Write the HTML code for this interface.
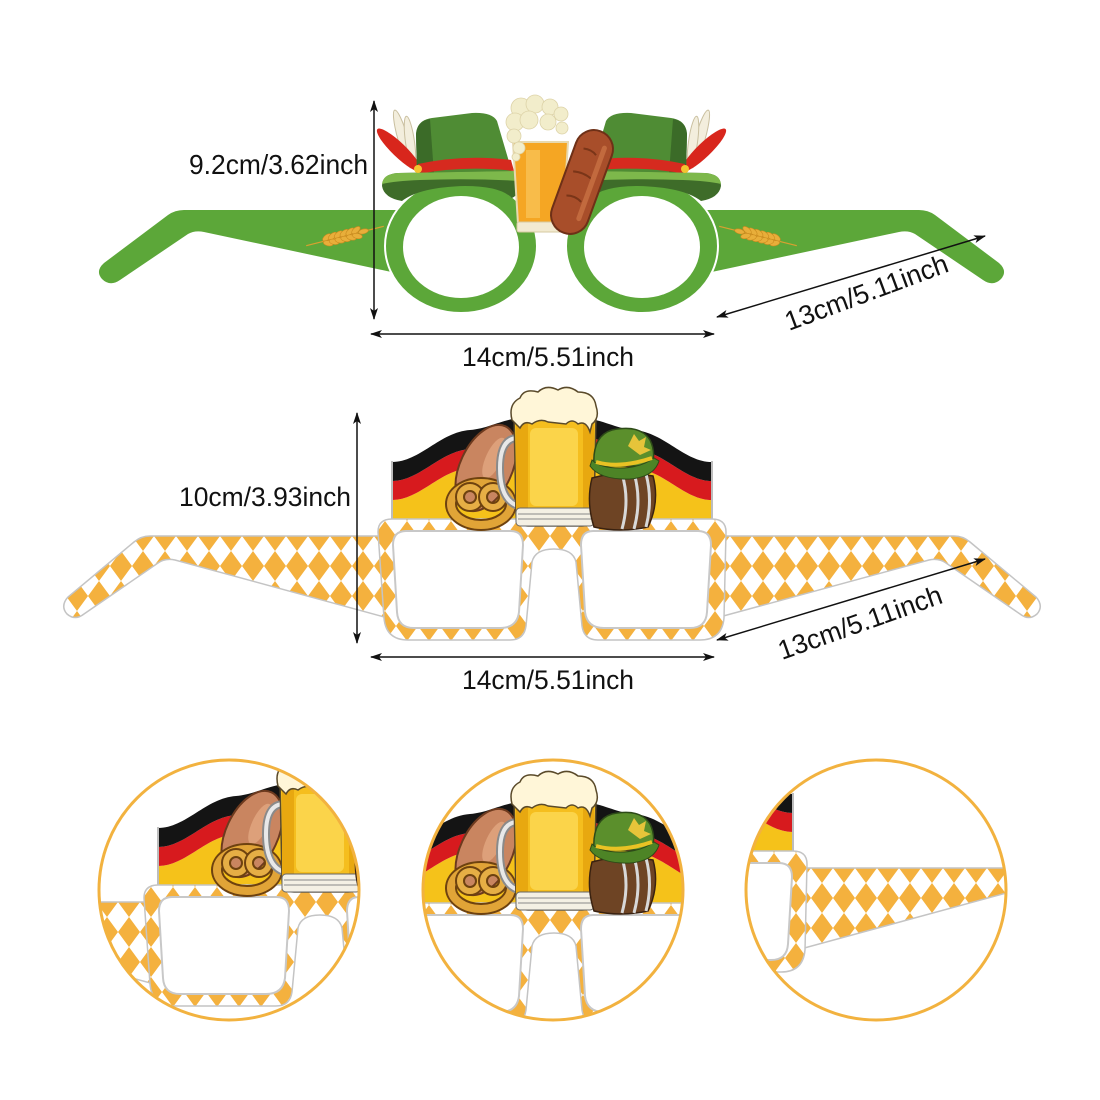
<!DOCTYPE html>
<html>
<head>
<meta charset="utf-8">
<style>
  html,body{margin:0;padding:0;background:#fff;}
  svg{display:block;}
  text{font-family:"Liberation Sans",sans-serif;fill:#111;}
</style>
</head>
<body>
<svg width="1100" height="1100" viewBox="0 0 1100 1100" xmlns="http://www.w3.org/2000/svg">
<defs>
  <pattern id="dm" x="0" y="521" width="22" height="30" patternUnits="userSpaceOnUse">
    <rect width="22" height="30" fill="#fff"/>
    <path d="M11,0 L22,15 L11,30 L0,15Z" fill="#F4B13E"/>
  </pattern>
  <marker id="ar" viewBox="0 0 12 8" refX="11" refY="4" markerWidth="12" markerHeight="8" markerUnits="userSpaceOnUse" orient="auto-start-reverse">
    <path d="M0,0 L12,4 L0,8 L3,4Z" fill="#111"/>
  </marker>
  <clipPath id="c1"><circle cx="229" cy="890" r="129"/></clipPath>
  <clipPath id="c2"><circle cx="553" cy="890" r="129"/></clipPath>
  <clipPath id="c3"><circle cx="876" cy="890" r="129"/></clipPath>

  <!-- left flag (middle glasses) -->
  <g id="flagL">
    <path d="M392,500 C420,500 440,470 470,468 C490,466 500,458 520,456 L520,523 L392,523 Z" fill="#F5C21A"/>
    <path d="M392,481 C420,481 440,451 470,449 C490,447 500,439 520,437 L520,456 C500,458 490,466 470,468 C440,470 420,500 392,500 Z" fill="#D71A1E"/>
    <path d="M392,462 C420,462 440,432 470,430 C490,428 500,420 520,418 L520,437 C500,439 490,447 470,449 C440,451 420,481 392,481 Z" fill="#141414"/>
    <line x1="392" y1="461" x2="392" y2="522" stroke="#bdbdbd" stroke-width="2"/>
  </g>

  <!-- middle temple -->
  <path id="tmpL" d="M380,536 L150,536 Q141,536 134,542 L68,597 Q60,606 67,614 Q75,621 84,614 L158,563 Q165,558 175,560 L388,618 Z" fill="url(#dm)" stroke="#c4c4c4" stroke-width="1.5"/>

  <!-- middle glasses group -->
  <g id="mid">
    <use href="#tmpL"/>
    <use href="#tmpL" transform="translate(1104,0) scale(-1,1)"/>
    <use href="#flagL"/>
    <use href="#flagL" transform="translate(1104,0) scale(-1,1)"/>
    <!-- frame -->
    <path d="M378,532 Q378,519 392,519 L712,519 Q726,519 726,532 L724,618 Q722,640 700,640 L598,640 Q584,640 582,626 L576,562 Q573,549 554,549 Q535,549 532,562 L526,626 Q524,640 510,640 L408,640 Q386,640 384,618 Z" fill="url(#dm)" stroke="#c4c4c4" stroke-width="1.5"/>
    <path d="M406,531 L511,531 Q523,531 523,545 L519,612 Q517,628 500,628 L414,628 Q398,628 397,612 L393,545 Q393,531 406,531Z" fill="#fff" stroke="#c8c8c8" stroke-width="2"/>
    <path d="M593,531 L698,531 Q711,531 711,545 L707,612 Q706,628 690,628 L604,628 Q587,628 585,612 L581,545 Q581,531 593,531Z" fill="#fff" stroke="#c8c8c8" stroke-width="2"/>
    <!-- sausage -->
    <ellipse cx="486" cy="468" rx="26" ry="46" transform="rotate(25 486 468)" fill="#C98560" stroke="#6d3a1e" stroke-width="2"/>
    <ellipse cx="494" cy="458" rx="8" ry="22" transform="rotate(25 494 458)" fill="#DDA07A"/>
    <!-- pretzel -->
    <g fill="none">
      <ellipse cx="481" cy="504" rx="30" ry="21" stroke="#6e420f" stroke-width="12"/>
      <ellipse cx="481" cy="504" rx="30" ry="21" stroke="#E1A437" stroke-width="8"/>
      <circle cx="470" cy="497" r="10" stroke="#6e420f" stroke-width="10"/>
      <circle cx="470" cy="497" r="10" stroke="#E6AE45" stroke-width="6"/>
      <circle cx="493" cy="497" r="10" stroke="#6e420f" stroke-width="10"/>
      <circle cx="493" cy="497" r="10" stroke="#E6AE45" stroke-width="6"/>
    </g>
    <!-- mug -->
    <path d="M518,438 Q500,438 500,468 Q500,500 518,506" fill="none" stroke="#8a8a8a" stroke-width="8"/>
    <path d="M518,438 Q500,438 500,468 Q500,500 518,506" fill="none" stroke="#e8e8e8" stroke-width="4"/>
    <path d="M514,414 L596,414 L594,514 Q594,526 582,526 L528,526 Q516,526 516,514Z" fill="#F5BE1E" stroke="#5a4a2a" stroke-width="1.5"/>
    <rect x="530" y="428" width="48" height="78" rx="6" fill="#FBD44A"/>
    <rect x="516" y="420" width="12" height="90" fill="#E8A810"/>
    <rect x="583" y="420" width="11" height="90" fill="#E8A810"/>
    <rect x="516" y="508" width="78" height="18" rx="4" fill="#f4f0e4" stroke="#666" stroke-width="1"/>
    <line x1="518" y1="514" x2="592" y2="514" stroke="#888"/>
    <line x1="518" y1="519" x2="592" y2="519" stroke="#888"/>
    <path d="M512,420 Q508,404 520,398 Q524,388 538,392 Q546,384 558,390 Q568,384 578,392 Q594,392 596,406 Q600,418 592,424 L590,432 Q586,420 578,424 Q572,418 566,424 L548,422 Q540,418 532,424 Q524,420 520,428 Z" fill="#FFF6D8" stroke="#5a4a2a" stroke-width="1.5"/>
    <!-- barrel -->
    <path d="M592,478 Q586,502 594,527 Q620,533 648,527 Q660,502 653,476 Q620,470 592,478Z" fill="#6E4424" stroke="#3a2210" stroke-width="1.5"/>
    <path d="M622,474 Q630,500 622,529" stroke="#d8d8d8" stroke-width="3" fill="none"/>
    <path d="M634,473 Q642,500 634,529" stroke="#d8d8d8" stroke-width="3" fill="none"/>
    <path d="M646,474 Q653,500 646,527" stroke="#d8d8d8" stroke-width="3" fill="none"/>
    <!-- hat -->
    <path d="M594,466 Q592,436 612,430 Q640,424 650,440 Q656,452 652,466 Z" fill="#5B8F2C" stroke="#2d4a18" stroke-width="1.5"/>
    <path d="M590,466 Q600,480 630,479 Q654,477 659,461 L654,458 Q640,468 620,468 Q600,468 592,460Z" fill="#4d8426" stroke="#2d4a18" stroke-width="1"/>
    <path d="M596,462 Q620,469 652,458" stroke="#E9C224" stroke-width="4" fill="none"/>
    <path d="M628,446 l6,-12 l5,7 l7,-4 l-2,10 l7,3 l-11,5 z" fill="#E6C43A"/>
  </g>

  <!-- top hat -->
  <g id="hatL">
    <ellipse cx="403" cy="139" rx="30" ry="5" transform="rotate(74 403 139)" fill="#F3EEDD" stroke="#c9bf9f" stroke-width="1"/>
    <ellipse cx="410" cy="142" rx="26" ry="4.5" transform="rotate(82 410 142)" fill="#F3EEDD" stroke="#c9bf9f" stroke-width="1"/>
    <ellipse cx="399" cy="150" rx="30" ry="7" transform="rotate(44 399 150)" fill="#D8261C"/>
    <path d="M417,174 L416,134 Q417,120 432,118 L472,113 Q492,112 497,121 L512,172 Z" fill="#4F8C34"/>
    <path d="M417,174 L416,134 Q417,121 430,119 L434,174 Z" fill="#3B6B28"/>
    <path d="M418,164 Q465,154 511,160 L514,171 Q465,165 418,174 Z" fill="#D62A1F"/>
    <path d="M382,186 Q382,174 398,173 L514,171 Q524,174 522,184 Q520,194 512,198 Q500,186 465,186 Q420,187 402,201 Q384,198 382,186Z" fill="#3E6C29"/>
    <path d="M382,184 Q383,174 398,173 L514,171 Q523,174 521,181 Q470,178 420,180 Q395,181 382,184Z" fill="#7DB84B"/>
    <circle cx="418" cy="169" r="4" fill="#F4C430"/>
  </g>

  <!-- green temple -->
  <path id="gtL" d="M396,210 L184,210 Q175,210 168,215 L104,263 Q95,271 102,279 Q110,287 120,280 L188,234 Q195,230 204,232 L396,273 Z" fill="#5CA739"/>

  <!-- wheat -->
  <g id="wheatL" transform="translate(345,236) rotate(-14)">
    <line x1="-40" y1="0" x2="40" y2="0" stroke="#D9A030" stroke-width="1.2"/>
    <g fill="#E8AE3A" stroke="#C98A1E" stroke-width="0.6">
      <ellipse cx="-18" cy="-3" rx="5" ry="2.6" transform="rotate(-25 -18 -3)"/>
      <ellipse cx="-12" cy="-3" rx="5" ry="2.6" transform="rotate(-25 -12 -3)"/>
      <ellipse cx="-6" cy="-3" rx="5" ry="2.6" transform="rotate(-25 -6 -3)"/>
      <ellipse cx="0" cy="-3" rx="5" ry="2.6" transform="rotate(-25 0 -3)"/>
      <ellipse cx="6" cy="-3" rx="5" ry="2.6" transform="rotate(-25 6 -3)"/>
      <ellipse cx="12" cy="-3" rx="5" ry="2.6" transform="rotate(-25 12 -3)"/>
      <ellipse cx="-18" cy="3" rx="5" ry="2.6" transform="rotate(25 -18 3)"/>
      <ellipse cx="-12" cy="3" rx="5" ry="2.6" transform="rotate(25 -12 3)"/>
      <ellipse cx="-6" cy="3" rx="5" ry="2.6" transform="rotate(25 -6 3)"/>
      <ellipse cx="0" cy="3" rx="5" ry="2.6" transform="rotate(25 0 3)"/>
      <ellipse cx="6" cy="3" rx="5" ry="2.6" transform="rotate(25 6 3)"/>
      <ellipse cx="12" cy="3" rx="5" ry="2.6" transform="rotate(25 12 3)"/>
      <ellipse cx="19" cy="0" rx="5" ry="2.4"/>
    </g>
  </g>
</defs>

<!-- ================= TOP GLASSES ================= -->
<use href="#gtL"/>
<use href="#gtL" transform="translate(1103,0) scale(-1,1)"/>
<use href="#wheatL"/>
<use href="#wheatL" transform="translate(1103,0) scale(-1,1)"/>

<ellipse cx="461" cy="246" rx="76" ry="67" fill="#5CA739" stroke="#fff" stroke-width="2"/>
<ellipse cx="461" cy="247" rx="58" ry="51" fill="#fff"/>
<ellipse cx="642" cy="246" rx="76" ry="67" fill="#5CA739" stroke="#fff" stroke-width="2"/>
<ellipse cx="642" cy="247" rx="58" ry="51" fill="#fff"/>

<use href="#hatL"/>
<use href="#hatL" transform="translate(1103,0) scale(-1,1)"/>

<!-- beer glass -->
<path d="M513,142 L568,142 L563,224 L518,224 Z" fill="#F5A623" stroke="#e7d9b0" stroke-width="2"/>
<rect x="526" y="150" width="14" height="68" fill="#F9C254" opacity=".8"/>
<rect x="517" y="222" width="48" height="10" rx="2" fill="#F2EAD0" stroke="#d6c9a0"/>
<g fill="#F2EDCB" stroke="#ddd3a8" stroke-width="0.8">
  <circle cx="521" cy="108" r="10"/><circle cx="535" cy="104" r="9"/><circle cx="550" cy="107" r="8"/>
  <circle cx="561" cy="114" r="7"/><circle cx="515" cy="122" r="9"/><circle cx="529" cy="120" r="9"/>
  <circle cx="548" cy="122" r="8"/><circle cx="562" cy="128" r="6"/><circle cx="514" cy="136" r="7"/>
  <circle cx="519" cy="148" r="6"/><circle cx="516" cy="157" r="4"/>
</g>
<!-- sausage -->
<g transform="rotate(20 582 182)">
  <rect x="563" y="128" width="38" height="108" rx="19" fill="#A84E2A" stroke="#6e3017" stroke-width="2"/>
  <path d="M572,150 Q580,148 586,152 M570,175 Q580,172 590,176 M572,200 Q580,197 588,201" stroke="#7a3518" stroke-width="2" fill="none"/>
  <rect x="589" y="140" width="5" height="80" rx="2.5" fill="#C26A3E"/>
</g>

<!-- top dimensions -->
<g stroke="#111" stroke-width="1.5" fill="none">
  <line x1="374" y1="101" x2="374" y2="319" marker-start="url(#ar)" marker-end="url(#ar)"/>
  <line x1="371" y1="334" x2="714" y2="334" marker-start="url(#ar)" marker-end="url(#ar)"/>
  <line x1="717" y1="317" x2="985" y2="236" marker-start="url(#ar)" marker-end="url(#ar)"/>
</g>
<text x="189" y="174" font-size="28" textLength="179" lengthAdjust="spacingAndGlyphs">9.2cm/3.62inch</text>
<text x="462" y="366" font-size="27" textLength="172" lengthAdjust="spacingAndGlyphs">14cm/5.51inch</text>
<text transform="translate(789,331) rotate(-20.4)" font-size="27" textLength="172" lengthAdjust="spacingAndGlyphs">13cm/5.11inch</text>

<!-- ================= MIDDLE GLASSES ================= -->
<use href="#mid"/>
<g stroke="#111" stroke-width="1.5" fill="none">
  <line x1="357" y1="413" x2="357" y2="643" marker-start="url(#ar)" marker-end="url(#ar)"/>
  <line x1="371" y1="657" x2="714" y2="657" marker-start="url(#ar)" marker-end="url(#ar)"/>
  <line x1="717" y1="640" x2="985" y2="559" marker-start="url(#ar)" marker-end="url(#ar)"/>
</g>
<text x="179" y="506" font-size="27" textLength="172" lengthAdjust="spacingAndGlyphs">10cm/3.93inch</text>
<text x="462" y="689" font-size="27" textLength="172" lengthAdjust="spacingAndGlyphs">14cm/5.51inch</text>
<text transform="translate(782,660) rotate(-19.5)" font-size="27" textLength="172" lengthAdjust="spacingAndGlyphs">13cm/5.11inch</text>

<!-- ================= DETAIL CIRCLES ================= -->
<g clip-path="url(#c1)"><use href="#mid" transform="translate(-234,366)"/></g>
<circle cx="229" cy="890" r="130" fill="none" stroke="#F2B23F" stroke-width="3"/>

<g clip-path="url(#c2)"><use href="#mid" transform="translate(0,384)"/></g>
<circle cx="553" cy="890" r="130" fill="none" stroke="#F2B23F" stroke-width="3"/>

<g clip-path="url(#c3)"><use href="#mid" transform="translate(81,332)"/></g>
<circle cx="876" cy="890" r="130" fill="none" stroke="#F2B23F" stroke-width="3"/>
</svg>
</body>
</html>
